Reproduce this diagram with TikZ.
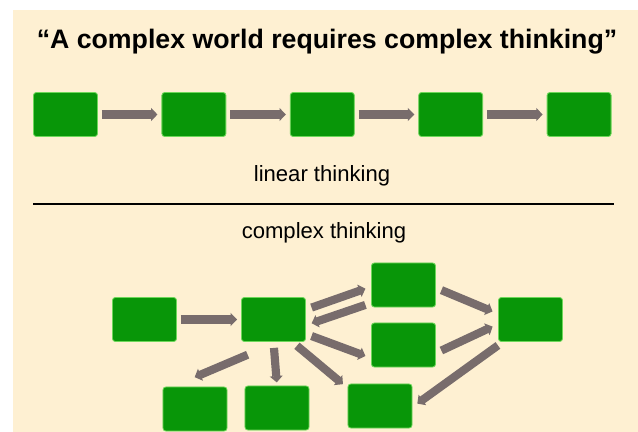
\documentclass[tikz,border=0pt]{standalone}
\usepackage{fontspec}
\setmainfont{Liberation Sans}
\usetikzlibrary{arrows.meta}
\definecolor{paper}{RGB}{254,240,210}
\definecolor{leaf}{RGB}{8,150,8}
\definecolor{leafedge}{RGB}{110,215,90}
\definecolor{pipe}{RGB}{120,108,108}
\tikzset{box/.style={rectangle, rounded corners=2pt, fill=leaf, draw=leafedge, line width=0.6pt,
        minimum width=1.6cm, minimum height=1.1cm, inner sep=0pt},
    link/.style={draw=pipe, line width=5.8pt, -{Triangle[length=4.5pt,width=9pt]},
        shorten <=0.15cm, shorten >=0.15cm},
    caption/.style={font=\fontsize{15.7}{18}\selectfont}}

\begin{document}
\begin{tikzpicture}[x=0.025cm, y=-0.025cm]
    \useasboundingbox (0,0) rectangle (638,432);
    \fill[paper] (13,10) rectangle (638,432);
    \node[font=\fontsize{19}{22}\selectfont\bfseries] (title) at (327,42) {“A complex world requires complex thinking”};
    % linear row
    \foreach \i in {1,...,5}
        \node[box] (l\i) at ({65.5+128.4*(\i-1)},114.5) {};
    \foreach \i/\j in {1/2,2/3,3/4,4/5}
        \draw[link, shorten <=0.1cm, shorten >=0.1cm] (l\i) -- (l\j);
    \node[caption] (lin) at (322,176) {linear thinking};
    \draw[line width=2pt] (33,204) -- (614,204);
    \node[caption] (cpx) at (324,233) {complex thinking};
    % network
    \node[box] (a) at (144.5,319.5) {};
    \node[box] (b) at (273.5,319.5) {};
    \node[box] (c) at (403.5,285) {};
    \node[box] (d) at (403.5,345) {};
    \node[box] (e) at (530.5,319.5) {};
    \node[box] (f) at (195,409) {};
    \node[box] (g) at (277,408) {};
    \node[box] (h) at (380,406) {};
    \draw[link, shorten <=0.1cm, shorten >=0.1cm] (a) -- (b);
    \draw[link] (b.17) -- (c.183);
    \draw[link] (c.209) -- (b.350);
    \draw[link] (b.336) -- (d.202);
    \draw[link] (c.355) -- (e.170);
    \draw[link] (d.346) -- (e.188);
    \draw[link] (e.219) -- (h.358);
    \draw[link, shorten <=0.82cm, shorten >=0.6cm] (b.281) -- (f.135);
    \draw[link, shorten >=0.08cm] (b.south) -- (g.north);
    \draw[link] (b.310) -- (h.151);
\end{tikzpicture}
\end{document}
